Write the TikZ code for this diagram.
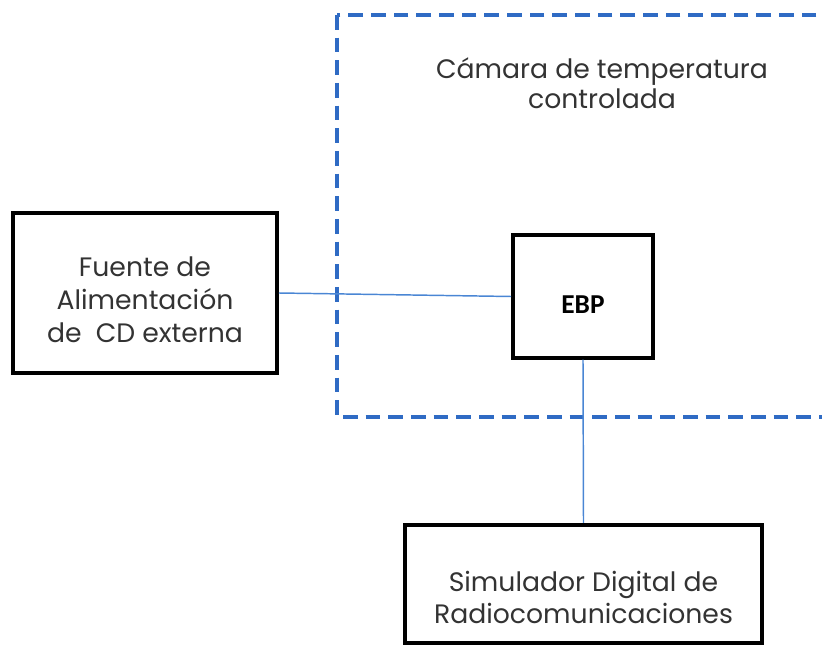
\documentclass[tikz,border=0pt]{standalone}
\usepackage{fontspec}
\setmainfont{Poppins}
\newfontfamily\ebpfont{Carlito}
\usetikzlibrary{positioning}
\definecolor{chamberblue}{HTML}{2F6BC4}
\definecolor{wireblue}{HTML}{4A86D4}
\definecolor{labelgray}{HTML}{333333}

\begin{document}
\begin{tikzpicture}[x=0.75pt,y=-0.75pt,
  block/.style={draw,line width=2.8pt,inner sep=0pt},
  boxtext/.style={align=center,text=labelgray,font=\fontsize{20}{24.5}\selectfont},
  wire/.style={wireblue,line width=1.1pt}]
  \useasboundingbox (0,0) rectangle (822,645);
  \clip (0,0) rectangle (822,645);
  % temperature chamber
  \draw[chamberblue,line width=2.8pt,dash pattern=on 11pt off 6pt] (337,15) rectangle (900,417);
  \node[boxtext,font=\fontsize{20}{22.5}\selectfont] (chamber) at (602,83)
    {Cámara de temperatura\\controlada};
  % blocks
  \node[block,minimum width=198pt,minimum height=120pt,
    label={[boxtext,yshift=-5pt]center:Fuente de\\Alimentación\\de\ \ CD externa}] (fuente) at (145,293) {};
  \node[block,minimum width=105pt,minimum height=92pt,
    label={[yshift=-6pt,font=\ebpfont\bfseries\fontsize{20.5}{22}\selectfont]center:EBP}] (ebp) at (583,296.5) {};
  \node[block,minimum width=268pt,minimum height=89pt,
    label={[boxtext,yshift=-10pt]center:Simulador Digital de\\Radiocomunicaciones}] (sim) at (583.5,584) {};
  % wires
  \draw[wire] (fuente.east) -- (ebp.west);
  \draw[wire] (ebp.south) -- (sim.north);
\end{tikzpicture}
\end{document}
